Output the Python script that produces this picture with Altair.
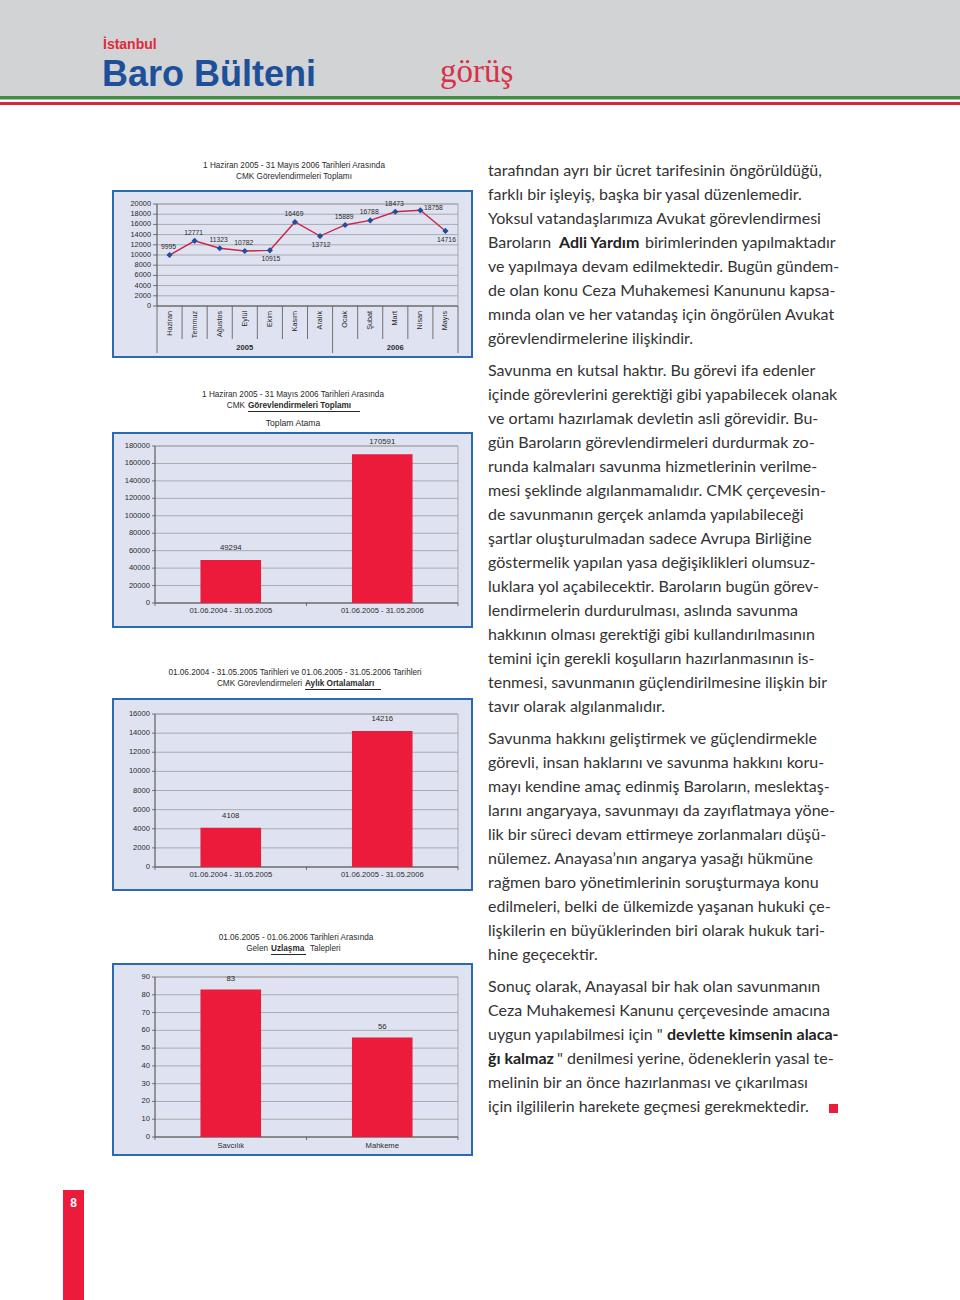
import altair as alt
import pandas as pd

# ------------------------------------------------------------------ data
months = ["Haziran", "Temmuz", "Ağustos", "Eylül", "Ekim", "Kasım", "Aralık",
          "Ocak", "Şubat", "Mart", "Nisan", "Mayıs"]
month_years = ["2005"] * 7 + ["2006"] * 5
monthly_counts = [9995, 12771, 11323, 10782, 10915, 16469, 13712,
                  15889, 16788, 18473, 18758, 14716]
labels_below = ["Ekim", "Aralık", "Mayıs"]
labels_right = ["Nisan"]
ticks_monthly = list(range(0, 20001, 2000))

periods = ["01.06.2004 - 31.05.2005", "01.06.2005 - 31.05.2006"]
total_counts = [49294, 170591]
ticks_total = list(range(0, 180001, 20000))
monthly_avgs = [4108, 14216]
ticks_avg = list(range(0, 16001, 2000))
uzlasma_sources = ["Savcılık", "Mahkeme"]
uzlasma_counts = [83, 56]
ticks_uzlasma = list(range(0, 91, 10))

para1 = [
    "tarafından ayrı bir ücret tarifesinin öngörüldüğü,",
    "farklı bir işleyiş, başka bir yasal düzenlemedir.",
    "Yoksul vatandaşlarımıza Avukat görevlendirmesi",
    [("Baroların", False, 488), ("Adli Yardım", True, 559), ("birimlerinden yapılmaktadır", False, 645)],
    "ve yapılmaya devam edilmektedir. Bugün gündem-",
    "de olan konu Ceza Muhakemesi Kanununu kapsa-",
    "mında olan ve her vatandaş için öngörülen Avukat",
    "görevlendirmelerine ilişkindir.",
]
para2 = [
    "Savunma en kutsal haktır. Bu görevi ifa edenler",
    "içinde görevlerini gerektiği gibi yapabilecek olanak",
    "ve ortamı hazırlamak devletin asli görevidir. Bu-",
    "gün Baroların görevlendirmeleri durdurmak zo-",
    "runda kalmaları savunma hizmetlerinin verilme-",
    "mesi şeklinde algılanmamalıdır. CMK çerçevesin-",
    "de savunmanın gerçek anlamda yapılabileceği",
    "şartlar oluşturulmadan sadece Avrupa Birliğine",
    "göstermelik yapılan yasa değişiklikleri olumsuz-",
    "luklara yol açabilecektir.   Baroların bugün görev-",
    "lendirmelerin durdurulması, aslında savunma",
    "hakkının olması gerektiği gibi kullandırılmasının",
    "temini için gerekli koşulların hazırlanmasının is-",
    "tenmesi, savunmanın güçlendirilmesine ilişkin bir",
    "tavır olarak algılanmalıdır.",
]
para3 = [
    "Savunma hakkını geliştirmek ve güçlendirmekle",
    "görevli, insan haklarını ve savunma hakkını koru-",
    "mayı kendine amaç edinmiş Baroların, meslektaş-",
    "larını angaryaya, savunmayı da zayıflatmaya yöne-",
    "lik bir süreci devam ettirmeye zorlanmaları düşü-",
    "nülemez. Anayasa’nın angarya yasağı hükmüne",
    "rağmen baro yönetimlerinin soruşturmaya konu",
    "edilmeleri, belki de ülkemizde yaşanan hukuki çe-",
    "lişkilerin en büyüklerinden biri olarak hukuk tari-",
    "hine geçecektir.",
]
para4 = [
    "Sonuç olarak, Anayasal bir hak olan savunmanın",
    "Ceza Muhakemesi Kanunu çerçevesinde amacına",
    [("uygun yapılabilmesi için \"", False, 488), ("devlette kimsenin alaca-", True, 667)],
    [("ğı kalmaz", True, 488), ("\" denilmesi yerine, ödeneklerin yasal te-", False, 557)],
    "melinin bir an önce hazırlanması ve çıkarılması",
    "için ilgililerin harekete geçmesi gerekmektedir.",
]
paragraphs = [para1, para2, para3, para4]

# ------------------------------------------------------------------ style
FONT = "Liberation Sans, Arial, sans-serif"
BODY = "Lato, Open Sans, sans-serif"
RED = "#ec1b3b"
LINE = "#c8254a"
BLUE = "#1f4f9c"
BOX_FILL = "#dfe3f1"
BOX_STROKE = "#2c6ab0"
GRID = "#9c9c9c"
AXIS = "#555555"
INK = "#2a2a2a"

ONE = pd.DataFrame({"k": [0]})
layers = []


def rect(x1, y1, x2, y2, **style):
    return alt.Chart(ONE).mark_rect(**style).encode(
        x=alt.value(x1), x2=alt.value(x2), y=alt.value(y1), y2=alt.value(y2))


def rule(x1, y1, x2, y2, **style):
    return alt.Chart(ONE).mark_rule(**style).encode(
        x=alt.value(x1), x2=alt.value(x2), y=alt.value(y1), y2=alt.value(y2))


def txt(s, x, y, size=8.2, **style):
    st = dict(font=FONT, fontSize=size, baseline="middle", align="center", color=INK)
    st.update(style)
    return alt.Chart(ONE).mark_text(text=s, **st).encode(x=alt.value(x), y=alt.value(y))


# ------------------------------------------------------------------ page header
layers.append(rect(0, 0, 960, 1300, fill="white"))
layers.append(rect(0, 0, 960, 96, fill="#d1d3d4"))
layers.append(rect(0, 96, 960, 99.5, fill="#3f8d47"))
layers.append(rect(0, 102, 960, 105, fill="#d3283b"))
layers.append(txt("İstanbul", 103, 52, 14, fontWeight="bold", color="#e02a3c",
                  align="left", baseline="bottom"))
layers.append(txt("Baro Bülteni", 102, 86, 36, fontWeight="bold", color="#1d4f9a",
                  align="left", baseline="alphabetic"))
layers.append(txt("görüş", 440, 82, 33, font="Liberation Serif, DejaVu Serif, serif",
                  color="#d93048", align="left", baseline="alphabetic"))

# ------------------------------------------------------------------ chart 1 (line)
df1 = pd.DataFrame({"idx": list(range(len(months))), "month": months,
                    "year": month_years, "value": monthly_counts})
df1["place"] = ["below" if m in labels_below else "right" if m in labels_right else "above"
                for m in months]
n = len(months)
sep = pd.DataFrame({"b": [i - 0.5 for i in range(n)] + [n - 0.5],
                    "long": [i == 0 or month_years[i] != month_years[i - 1] for i in range(n)] + [True]})
tk1 = pd.DataFrame({"t": ticks_monthly})

X1 = alt.Scale(domain=[-0.5, n - 0.5], range=[157, 458], nice=False, zero=False)
Y1 = alt.Scale(domain=[0, 20000], range=[306, 204], nice=False, zero=False)

layers.append(txt("1 Haziran 2005 - 31 Mayıs 2006 Tarihleri Arasında", 294, 166))
layers.append(txt("CMK Görevlendirmeleri Toplamı", 294, 177))
layers.append(rect(113, 191, 472, 357, fill=BOX_FILL, stroke=BOX_STROKE, strokeWidth=2))
layers.append(rect(157, 204, 458, 306, fill=BOX_FILL, stroke=GRID, strokeWidth=0.8))
layers.append(alt.Chart(tk1).mark_rule(color=GRID, strokeWidth=0.8).encode(
    y=alt.Y("t:Q", scale=Y1, axis=None), x=alt.value(157), x2=alt.value(458)))
layers.append(alt.Chart(tk1).mark_rule(color=AXIS, strokeWidth=0.8).encode(
    y=alt.Y("t:Q", scale=Y1, axis=None), x=alt.value(153), x2=alt.value(157)))
layers.append(alt.Chart(tk1).mark_text(font=FONT, fontSize=7.4, align="right", baseline="middle",
                                       color=INK).encode(
    y=alt.Y("t:Q", scale=Y1, axis=None), x=alt.value(151), text=alt.Text("t:Q", format="d")))
layers.append(rule(157, 204, 157, 306, color=AXIS, strokeWidth=0.9))
layers.append(rule(157, 306, 458, 306, color=AXIS, strokeWidth=0.9))
layers.append(alt.Chart(sep).transform_filter("!datum.long").mark_rule(color=AXIS, strokeWidth=0.8).encode(
    x=alt.X("b:Q", scale=X1, axis=None), y=alt.value(306), y2=alt.value(339)))
layers.append(alt.Chart(sep).transform_filter("datum.long").mark_rule(color=AXIS, strokeWidth=0.8).encode(
    x=alt.X("b:Q", scale=X1, axis=None), y=alt.value(306), y2=alt.value(353)))
layers.append(alt.Chart(df1).mark_text(font=FONT, fontSize=7.2, angle=270, align="right",
                                       baseline="middle", color=INK).encode(
    x=alt.X("idx:Q", scale=X1, axis=None), y=alt.value(311), text="month:N"))
layers.append(alt.Chart(df1).transform_aggregate(mid="mean(idx)", groupby=["year"]).mark_text(
    font=FONT, fontSize=7.6, fontWeight="bold", baseline="middle", color=INK).encode(
    x=alt.X("mid:Q", scale=X1, axis=None), y=alt.value(348), text="year:N"))
layers.append(alt.Chart(df1).mark_line(color=LINE, strokeWidth=1.4).encode(
    x=alt.X("idx:Q", scale=X1, axis=None), y=alt.Y("value:Q", scale=Y1, axis=None)))
layers.append(alt.Chart(df1).mark_point(shape="diamond", filled=True, size=38, color=BLUE, opacity=1).encode(
    x=alt.X("idx:Q", scale=X1, axis=None), y=alt.Y("value:Q", scale=Y1, axis=None)))
for place, dx, dy in [("above", -1, -8), ("below", 1, 9), ("right", 13, -2)]:
    layers.append(alt.Chart(df1).transform_filter(alt.datum.place == place).mark_text(
        font=FONT, fontSize=6.8, baseline="middle", dx=dx, dy=dy, color=INK).encode(
        x=alt.X("idx:Q", scale=X1, axis=None), y=alt.Y("value:Q", scale=Y1, axis=None),
        text=alt.Text("value:Q", format="d")))


# ------------------------------------------------------------------ bar panels
def bar_panel(cats, vals, ticks, y0, ytop, box, label_dy, xlab_y):
    df = pd.DataFrame({"cat": cats, "v": vals})
    tk = pd.DataFrame({"t": ticks})
    XS = alt.Scale(type="band", domain=cats, range=[155, 458], paddingInner=0.6, paddingOuter=0.3)
    XB = alt.Scale(type="band", domain=cats, range=[155, 458], paddingInner=0, paddingOuter=0)
    YS = alt.Scale(domain=[0, ticks[-1]], range=[y0, ytop], nice=False, zero=True)
    out = [
        rect(box[0], box[1], box[2], box[3], fill=BOX_FILL, stroke=BOX_STROKE, strokeWidth=2),
        rect(155, ytop, 458, y0, fill=BOX_FILL, stroke=GRID, strokeWidth=0.8),
        alt.Chart(tk).mark_rule(color=GRID, strokeWidth=0.8).encode(
            y=alt.Y("t:Q", scale=YS, axis=None), x=alt.value(155), x2=alt.value(458)),
        alt.Chart(tk).mark_rule(color=AXIS, strokeWidth=0.8).encode(
            y=alt.Y("t:Q", scale=YS, axis=None), x=alt.value(152), x2=alt.value(155)),
        alt.Chart(tk).mark_text(font=FONT, fontSize=7.6, align="right", baseline="middle", color=INK).encode(
            y=alt.Y("t:Q", scale=YS, axis=None), x=alt.value(150), text=alt.Text("t:Q", format="d")),
        rule(155, ytop, 155, y0, color=AXIS, strokeWidth=0.9),
        rule(155, y0, 458, y0, color=AXIS, strokeWidth=0.9),
        alt.Chart(df).mark_rule(color=AXIS, strokeWidth=0.8).encode(
            x=alt.X("cat:N", scale=XB, axis=None, bandPosition=0), y=alt.value(y0), y2=alt.value(y0 + 3)),
        rule(458, y0, 458, y0 + 3, color=AXIS, strokeWidth=0.8),
        alt.Chart(df).mark_bar(color=RED).encode(
            x=alt.X("cat:N", scale=XS, axis=None), y=alt.Y("v:Q", scale=YS, axis=None)),
        alt.Chart(df).mark_text(font=FONT, fontSize=7.8, baseline="middle", dy=label_dy, color=INK).encode(
            x=alt.X("cat:N", scale=XS, axis=None), y=alt.Y("v:Q", scale=YS, axis=None),
            text=alt.Text("v:Q", format="d")),
        alt.Chart(df).mark_text(font=FONT, fontSize=7.6, baseline="middle", color=INK).encode(
            x=alt.X("cat:N", scale=XS, axis=None), y=alt.value(xlab_y), text="cat:N"),
    ]
    return out


# chart 2
layers.append(txt("1 Haziran 2005 - 31 Mayıs 2006 Tarihleri Arasında", 293, 395))
layers.append(txt("CMK", 245, 406, align="right"))
layers.append(txt("Görevlendirmeleri Toplamı", 248, 406, align="left", fontWeight="bold"))
layers.append(rule(248, 411.5, 360, 411.5, color=INK, strokeWidth=1))
layers.append(txt("Toplam Atama", 293, 423, 8.6))
layers += bar_panel(periods, total_counts, ticks_total, 603, 446, (113, 433, 472, 627), -12, 611)

# chart 3
layers.append(txt("01.06.2004 - 31.05.2005 Tarihleri ve 01.06.2005 - 31.05.2006 Tarihleri", 295, 673))
layers.append(txt("CMK Görevlendirmeleri", 302, 684, align="right"))
layers.append(txt("Aylık Ortalamaları", 305, 684, align="left", fontWeight="bold"))
layers.append(rule(305, 689.5, 381, 689.5, color=INK, strokeWidth=1))
layers += bar_panel(periods, monthly_avgs, ticks_avg, 867, 714, (113, 699, 472, 890), -12, 875)

# chart 4
layers.append(txt("01.06.2005 - 01.06.2006 Tarihleri Arasında", 296, 938))
layers.append(txt("Gelen", 268, 949, align="right"))
layers.append(txt("Uzlaşma", 271, 949, align="left", fontWeight="bold"))
layers.append(txt("Talepleri", 310, 949, align="left"))
layers.append(rule(271, 954.5, 306, 954.5, color=INK, strokeWidth=1))
layers += bar_panel(uzlasma_sources, uzlasma_counts, ticks_uzlasma, 1137, 977, (113, 964, 472, 1155), -10, 1146)

# ------------------------------------------------------------------ body text
plain_rows, seg_rows = [], []
k = 0
for p, para in enumerate(paragraphs):
    for line in para:
        slot = k + p / 3.0
        if isinstance(line, str):
            plain_rows.append({"slot": slot, "text": line})
        else:
            for s, bold, x in line:
                seg_rows.append({"slot": slot, "text": s, "bold": bold, "x": x})
        k += 1
plain = pd.DataFrame(plain_rows)
segs = pd.DataFrame(seg_rows)
SLOT = alt.Scale(domain=[0, 1], range=[171, 195], nice=False, zero=False)
PX = alt.Scale(domain=[0, 960], range=[0, 960], nice=False, zero=False)
BODY_SIZE = 16
layers.append(alt.Chart(plain).mark_text(font=BODY, fontSize=BODY_SIZE, align="left", baseline="middle",
                                         color="#333333").encode(
    x=alt.value(488), y=alt.Y("slot:Q", scale=SLOT, axis=None), text="text:N"))
for bold in (False, True):
    layers.append(alt.Chart(segs).transform_filter(
        alt.datum.bold if bold else ~alt.datum.bold).mark_text(
        font=BODY, fontSize=BODY_SIZE, align="left", baseline="middle", color="#222222" if bold else "#333333",
        fontWeight="bold" if bold else "normal").encode(
        x=alt.X("x:Q", scale=PX, axis=None), y=alt.Y("slot:Q", scale=SLOT, axis=None), text="text:N"))
layers.append(rect(829, 1104, 838, 1113, fill=RED))

# ------------------------------------------------------------------ page number
layers.append(rect(63, 1190, 84, 1300, fill=RED))
layers.append(txt("8", 73.5, 1203, 12, fontWeight="bold", color="white"))

chart = alt.layer(*layers).resolve_scale(x="independent", y="independent").properties(
    width=960, height=1300, padding=0, autosize=alt.AutoSizeParams(type="none"), background="white"
).configure_view(strokeWidth=0)

chart.save("out.html", embed_options={"renderer": "svg", "actions": False})
